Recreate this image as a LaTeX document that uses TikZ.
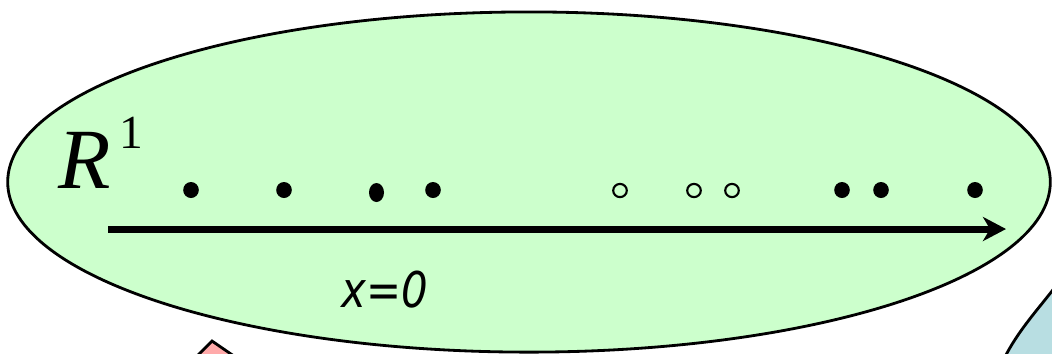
\documentclass[tikz,border=0pt]{standalone}
\usepackage{fontspec}
\setmainfont{Liberation Serif}
\newfontfamily\labfont[FakeStretch=0.85]{DejaVu Sans}
\usetikzlibrary{arrows.meta,shapes.geometric}
\definecolor{ellgreen}{HTML}{CCFFCC}
\definecolor{tripink}{HTML}{FFAAAA}
\definecolor{shapeblue}{HTML}{B8DEE2}
\tikzset{
  fulldot/.style={fill=black, draw=none},
  opendot/.style={draw=black, line width=0.6pt, fill=none},
  outl/.style={draw=black, line width=0.8pt},
}
\begin{document}
\begin{tikzpicture}[x=0.01cm,y=-0.01cm]
\useasboundingbox (0,0) rectangle (1052,353);
\clip (0,0) rectangle (1052,353);
% bottom shapes
\path[outl, fill=tripink] (212,341) -- (188,365) -- (247,365) -- cycle;
\path[outl, fill=shapeblue] (1060,280) -- (1052,291) .. controls (1038,309) and (1020,329) .. (1007,353) -- (1001,365) -- (1070,365) -- cycle;
% ellipse
\node[outl, fill=ellgreen, ellipse, minimum width=10.42cm, minimum height=3.4cm, inner sep=0pt] (space) at (529,182) {};
% axis
\coordinate (axs) at (108,229);
\coordinate (axe) at (1006,229);
\draw[line width=2pt, -{Stealth[length=2.3mm, width=2.4mm, inset=0.7mm]}] (axs) -- (axe);
% label
\node[anchor=base west, inner sep=0pt, font=\fontsize{24.4}{25}\selectfont\itshape] (rl) at (58,188) {R};
\node[anchor=base west, inner sep=0pt, font=\fontsize{13.5}{14}\selectfont] (sup) at (119,148) {1};
\node[anchor=base west, inner sep=0pt, font=\labfont\itshape\fontsize{14}{15}\selectfont] (xl) at (341,307) {x=0};
% points
\foreach \x/\n in {191/a,284/b,433/d,842/e,881/f,975/g}
  \path[fulldot] (\x,190) ellipse (7.8 and 8) coordinate (p\n);
\path[fulldot] (376.5,192.5) ellipse (7.5 and 9.5) coordinate (pc);
\foreach \x/\n in {620/h,694/i,732/j}
  \path[opendot] (\x,190.5) ellipse (6.8 and 6.6) coordinate (p\n);
\end{tikzpicture}
\end{document}
